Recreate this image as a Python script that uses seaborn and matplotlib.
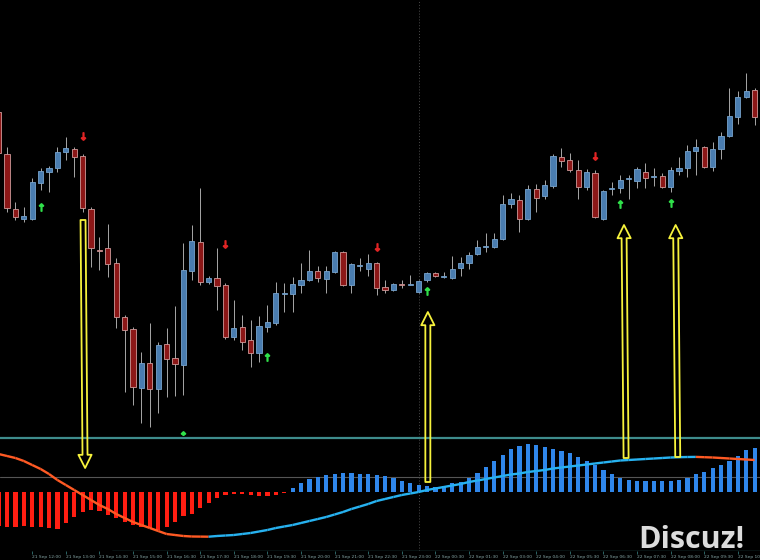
import numpy as np
import pandas as pd
import matplotlib
matplotlib.use("Agg")
import matplotlib.pyplot as plt
from matplotlib.collections import LineCollection
from matplotlib.patches import ConnectionPatch
import seaborn as sns

# ---------------- data ----------------
open_ = [388, 346, 291, 281, 281, 317, 328, 332, 348, 351, 344, 291, 250, 252, 237, 183, 171, 112, 137, 111,
         156, 142, 135, 229, 258, 218, 222, 215, 163, 173, 160, 147, 173, 177, 206, 206, 215, 220, 229, 221,
         228, 248, 215, 234, 231, 237, 213, 210, 216, 215.5, 208, 220, 227, 223, 222, 232, 237, 246, 253, 253,
         261, 296, 300, 281, 311, 304, 314, 343, 340, 330, 313, 327, 281, 311, 312, 321, 319, 328, 323, 324,
         313, 329, 332, 349, 353, 333, 351, 364, 383, 403, 410]
high = [392, 353, 298, 293, 322, 332, 334, 353, 363, 353, 346, 293, 263, 276, 242, 185, 173, 148, 177, 158,
        172, 194, 257, 275, 312, 224, 252, 217, 200, 185, 180, 184, 195, 218, 217, 223, 237, 250, 234, 234,
        249, 249, 237, 242, 246, 238, 220, 217, 220, 225, 220, 228, 228, 228, 244, 243, 248, 260, 267, 267,
        305, 307, 305, 315, 316, 320, 346, 352, 347, 340, 331, 330, 310, 318, 325, 325, 333, 337, 332, 327,
        333, 343, 355, 361, 354, 358, 368, 412, 409, 427, 412]
low = [342, 288, 280, 278, 280, 310, 308, 328, 340, 323, 288, 233, 230, 223, 172, 108, 95, 77, 73, 87,
       103, 104, 105, 220, 215, 216, 190, 161, 160, 150, 133, 138, 168, 175, 188, 188, 207, 219, 218, 207,
       227, 214, 207, 229, 224, 205, 207, 209, 212, 215, 207, 218, 223, 222, 221, 224, 231, 245, 248, 252,
       260, 292, 268, 280, 288, 301, 312, 333, 328, 301, 310, 282, 280, 305, 307, 301, 312, 312, 314, 312,
       308, 325, 323, 325, 332, 329, 341, 363, 376, 402, 375]
close = [347, 292, 283, 284, 318, 329, 332, 348, 352, 343, 292, 252, 249, 236, 183, 170, 113, 137, 111, 155,
         141, 136, 230, 259, 218, 222, 214, 163, 172, 158, 147, 174, 178, 207, 207, 216, 220, 229, 222, 229,
         248, 215, 236, 235, 237, 212, 210, 216, 215, 216, 219, 227, 224, 223.5, 231, 237, 245, 253, 254, 261,
         296, 301, 281, 311, 302, 315, 344, 339, 330, 313, 328, 283, 309, 312, 320, 322, 331, 322, 323.5, 313,
         330, 332, 349, 353, 333, 351, 364, 384, 403, 409, 383]

# oscillator histogram and its signal line
hist = [-34, -35, -35, -34, -35, -35, -36, -37, -31, -25, -20, -18, -19, -23, -26, -30, -33, -35, -36, -38,
        -35, -30, -24, -22, -16, -11, -6, -2.5, -1.5, -1.5, -2.5, -4, -4, -2.5, -0.7, 4, 9, 13, 15, 17,
        18, 19, 19, 18, 18, 17, 16, 14.3, 11.3, 9.3, 7, 6, 5.3, 6, 8.7, 10.3, 13.7, 19.3, 25.3, 31,
        37, 43, 46.3, 48, 47, 44.7, 43, 41, 38.7, 35.3, 31.3, 27, 22, 17.7, 14.3, 12, 11.3, 11.3, 11.3, 11.3,
        11.3, 12, 14.3, 17.7, 20.3, 23.7, 27, 31, 36, 42, 43.7]
signal = [38, 36, 34, 31, 27, 23, 18, 12, 7, 2, -3, -8, -13, -17, -22, -26, -30, -33, -36, -39,
          -42, -43, -44, -44.5, -44.6, -44.7, -44, -43.5, -43, -42, -41, -39.5, -38, -36, -34.5, -33, -31, -29, -27, -25,
          -22.5, -20, -17, -14.5, -12, -9, -7, -5, -3, -1.5, 0, 2, 3.5, 5, 6.5, 8, 10, 11.5, 13, 14.5,
          16, 17.5, 18.5, 20, 21, 22, 23.5, 24.5, 25.5, 26.5, 27.5, 28.5, 29.5, 30.5, 31.5, 32, 32.5, 33, 33.5, 34,
          34.5, 34.8, 35, 35.1, 34.8, 34.5, 34, 33.5, 33, 32.5, 32]
osc_level = 15

time_labels = ["21 Sep 12:00", "21 Sep 13:00", "21 Sep 14:30", "21 Sep 15:00", "21 Sep 16:30",
               "21 Sep 17:30", "21 Sep 18:00", "21 Sep 19:30", "21 Sep 20:00", "21 Sep 21:00",
               "21 Sep 22:30", "21 Sep 23:00", "22 Sep 00:30", "22 Sep 01:30", "22 Sep 03:00",
               "22 Sep 04:00", "22 Sep 05:30", "22 Sep 06:30", "22 Sep 07:30", "22 Sep 08:00",
               "22 Sep 09:30", "22 Sep 10:00"]
label_bars = list(range(4, 89, 4))

buy_bars = [5, 22, 32, 51, 74, 80]
buy_prices = [293, 65, 143, 209, 296, 297]
sell_bars = [10, 27, 45, 71]
sell_prices = [364, 256, 253, 344]
separator_bar = 50.1

# big yellow hollow arrows: tail -> head (panel: 'price' or 'osc')
yarrow_tail_bar = [10.05, 51.1, 74.7, 80.85]
yarrow_tail_val = [280, 10, 34, 35]
yarrow_tail_panel = ['price', 'osc', 'osc', 'osc']
yarrow_head_bar = [10.3, 51.1, 74.45, 80.6]
yarrow_head_val = [24, 188, 275, 275]
yarrow_head_panel = ['osc', 'price', 'price', 'price']

# ---------------- style ----------------
sns.set_theme(style="dark", rc={"axes.facecolor": "black", "figure.facecolor": "black"})
BULL, BULL_EDGE = "#4a7db0", "#77a3cc"
BEAR, BEAR_EDGE = "#8c1717", "#d09a9a"
WICK = "#a8a8a8"
TEAL = "#3e8c8c"
HBLUE, HRED = "#2f86ea", "#ff1e12"
SIG_UP, SIG_DN = "#27b2f0", "#ff5a24"
YELLOW = "#f6f23c"

fig = plt.figure(figsize=(7.6, 5.6), dpi=100)
ax = fig.add_axes([0, 1 - 437 / 560, 1, 437 / 560])
axo = fig.add_axes([0, 9 / 560, 1, 115 / 560])
for a in (ax, axo):
    a.set_facecolor("black")
    for s in a.spines.values():
        s.set_visible(False)

# ---------------- candles ----------------
x = np.arange(len(open_))
o, h, l, c = map(np.array, (open_, high, low, close))
up = c >= o
ax.vlines(x, l, h, color=WICK, lw=0.7, zorder=1)
ax.bar(x, np.maximum(np.abs(c - o), 0.6), bottom=np.minimum(o, c), width=0.62,
       color=np.where(up, BULL, BEAR), edgecolor=np.where(up, BULL_EDGE, BEAR_EDGE),
       linewidth=0.6, zorder=2)
ax.scatter(buy_bars, buy_prices, marker=r"$\uparrow$", s=28, color="#2fe04a", zorder=3, clip_on=False)
ax.scatter(sell_bars, sell_prices, marker=r"$\downarrow$", s=28, color="#e02424", zorder=3, clip_on=False)
ax.set_ylim(63, 500)

# ---------------- oscillator ----------------
df = pd.DataFrame({"bar": x, "hist": hist,
                   "dir": np.where(np.array(hist) >= 0, "up", "down")})
sns.barplot(data=df, x="bar", y="hist", hue="dir", palette={"up": HBLUE, "down": HRED},
            native_scale=True, width=0.5, errorbar=None, legend=False, ax=axo,
            linewidth=0, saturation=1)
sig = np.array(signal, dtype=float)
pts = np.column_stack([x, sig])
segs = np.stack([pts[:-1], pts[1:]], axis=1)
seg_colors = [SIG_UP if d > 0 else SIG_DN for d in np.diff(sig)]
axo.add_collection(LineCollection(segs, colors=seg_colors, linewidths=1.7, zorder=4))
axo.axhline(osc_level, color="#555555", lw=0.8, zorder=0.5)
axo.axhline(54.5, color=TEAL, lw=1.6, zorder=5)
axo.axhline(-58.5, xmin=112 / 760, color=TEAL, lw=0.9, zorder=5)
axo.set_ylim(-59, 56)
axo.set_xlabel("")
axo.set_ylabel("")
axo.set_yticks([])
axo.set_xticks(label_bars)
axo.set_xticklabels(time_labels, ha="left", fontsize=3.2, color="#86a6a6")
axo.tick_params(axis="x", length=2, width=0.5, color=TEAL, pad=0.8, bottom=True)
ax.set_xticks([])
ax.set_yticks([])

for a in (ax, axo):
    a.axvline(separator_bar, color="#4d4d4d", ls=(0, (1, 2)), lw=0.7, zorder=0.6)
    a.set_xlim(1.4 / 8.4, 761.4 / 8.4)
    a.grid(False)

# ---------------- yellow arrows ----------------
panels = {"price": ax, "osc": axo}
for tb, tv, tp, hb, hv, hp in zip(yarrow_tail_bar, yarrow_tail_val, yarrow_tail_panel,
                                  yarrow_head_bar, yarrow_head_val, yarrow_head_panel):
    con = ConnectionPatch(xyA=(tb, tv), coordsA="data", axesA=panels[tp],
                          xyB=(hb, hv), coordsB="data", axesB=panels[hp],
                          arrowstyle="simple,head_length=9.5,head_width=9.5,tail_width=3.6",
                          mutation_scale=1, fc="none", ec=YELLOW, lw=1.3,
                          shrinkA=0, shrinkB=0, zorder=10)
    fig.add_artist(con)

fig.text(691 / 760, (560 - 548) / 560, "Discuz!", fontsize=22, fontweight="bold",
         family=["Open Sans", "DejaVu Sans"], color="#dcdcdc", ha="center", va="baseline", zorder=12)

fig.savefig("out.png", dpi=100, facecolor="black")
